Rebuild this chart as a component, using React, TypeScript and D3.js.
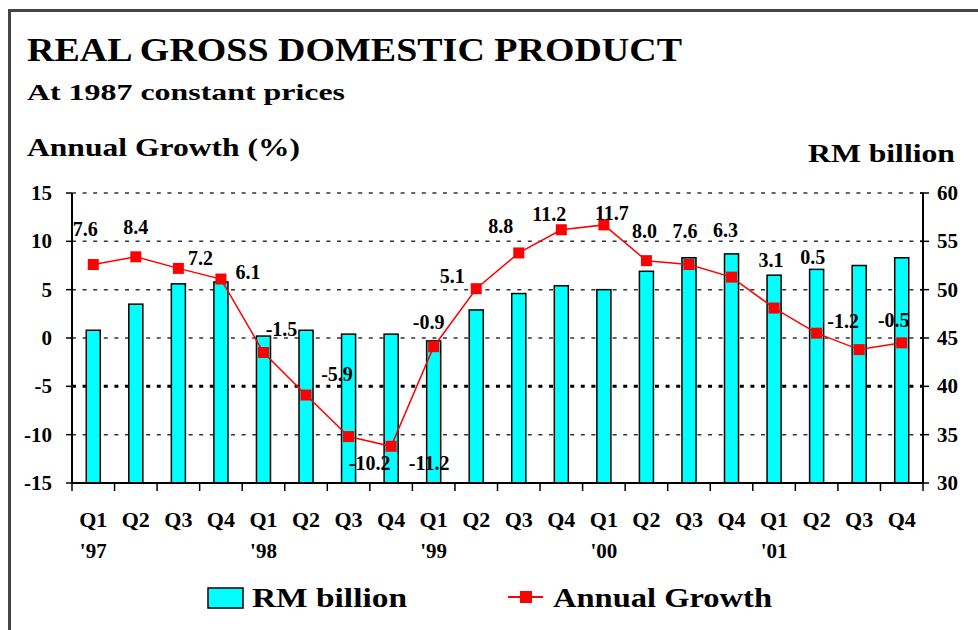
import React from "react";
import * as d3 from "d3";

const quarters = ["Q1","Q2","Q3","Q4","Q1","Q2","Q3","Q4","Q1","Q2","Q3","Q4","Q1","Q2","Q3","Q4","Q1","Q2","Q3","Q4"];
const yearLabels = ["'97","","","","'98","","","","'99","","","","'00","","","","'01","","",""];
const rmBillion = [45.8, 48.5, 50.6, 50.8, 45.2, 45.8, 45.4, 45.4, 44.7, 47.9, 49.6, 50.4, 50.0, 51.9, 53.3, 53.7, 51.5, 52.1, 52.5, 53.3];
const growth = [7.6, 8.4, 7.2, 6.1, -1.5, -5.9, -10.2, -11.2, -0.9, 5.1, 8.8, 11.2, 11.7, 8.0, 7.6, 6.3, 3.1, 0.5, -1.2, -0.5];
const leftTicks = [15, 10, 5, 0, -5, -10, -15];
const rightTicks = [60, 55, 50, 45, 40, 35, 30];

// label placement offsets (px) relative to each point
const labelDx = [-8, 0, 22, 27, 18, 31, 21, 38, -5, -24, -18, -12, 8, -2, -4, -6, -3, -4, -16, -8];
const labelDy = [-36, -30, -10, -7, -24, -21, 26, 17, -25, -13, -27, -16, -12, -30, -34, -47, -48, -76, -29, -23];

const FONT = "'Liberation Serif', 'Times New Roman', serif";

export default function App() {
  const left = 72, right = 923, top = 193, bottom = 483;
  const x = d3.scaleBand<number>().domain(d3.range(quarters.length)).range([left, right]).padding(0);
  const yL = d3.scaleLinear().domain([-15, 15]).range([bottom, top]);
  const yR = d3.scaleLinear().domain([30, 60]).range([bottom, top]);
  const bw = x.bandwidth() * 0.33;
  const cx = (i: number) => (x(i) as number) + x.bandwidth() / 2;
  const line = d3.line<number>().x((_, i) => cx(i)).y((d) => yL(d));
  const boundaries = d3.range(quarters.length + 1).map((i) => left + i * x.bandwidth());

  return (
    <svg width={978} height={630} style={{ position: "absolute", left: 0, top: 0, background: "#fff" }} fontFamily={FONT}>
      <rect x={9.5} y={10.5} width={990} height={640} fill="none" stroke="#444" strokeWidth={3} />
      <text x={27} y={61} fontSize={34} fontWeight="bold" textLength={655} lengthAdjust="spacingAndGlyphs">REAL GROSS DOMESTIC PRODUCT</text>
      <text x={27} y={100} fontSize={24} fontWeight="bold" textLength={318} lengthAdjust="spacingAndGlyphs">At 1987 constant prices</text>
      <text x={27} y={156} fontSize={25} fontWeight="bold" textLength={273} lengthAdjust="spacingAndGlyphs">Annual Growth (%)</text>
      <text x={808} y={162} fontSize={26} fontWeight="bold" textLength={147} lengthAdjust="spacingAndGlyphs">RM billion</text>

      {/* gridlines */}
      {leftTicks.filter((t) => t !== -15).map((t) => (
        <line key={"g" + t} x1={left} x2={right} y1={yL(t)} y2={yL(t)} stroke={t === -5 ? "#000" : "#333"}
          strokeWidth={t === -5 ? 3 : 1.5} strokeDasharray={t === -5 ? "4 6.6" : "4 6.6"} />
      ))}

      {/* bars */}
      {rmBillion.map((v, i) => (
        <rect key={"b" + i} x={cx(i) - bw / 2} y={yR(v)} width={bw} height={yR(30) - yR(v)} fill="#00FFFF" stroke="#000" strokeWidth={1.5} />
      ))}

      {/* axes */}
      <line x1={left} x2={left} y1={top} y2={bottom} stroke="#000" strokeWidth={2} />
      <line x1={right} x2={right} y1={top} y2={bottom} stroke="#000" strokeWidth={2} />
      <line x1={left} x2={right} y1={bottom} y2={bottom} stroke="#000" strokeWidth={2} />
      {leftTicks.map((t) => (
        <g key={"lt" + t}>
          <line x1={left - 6} x2={left} y1={yL(t)} y2={yL(t)} stroke="#000" strokeWidth={1.5} />
          <text x={52} y={yL(t) + 7} fontSize={21} fontWeight="bold" textAnchor="end">{t}</text>
        </g>
      ))}
      {rightTicks.map((t) => (
        <g key={"rt" + t}>
          <line x1={right - 3} x2={right + 6} y1={yR(t)} y2={yR(t)} stroke="#000" strokeWidth={1.5} />
          <text x={937} y={yR(t) + 7} fontSize={21} fontWeight="bold">{t}</text>
        </g>
      ))}
      {boundaries.map((bx, i) => (
        <line key={"xt" + i} x1={bx} x2={bx} y1={bottom} y2={bottom + 8} stroke="#000" strokeWidth={1.5} />
      ))}
      {quarters.map((q, i) => (
        <g key={"xl" + i}>
          <text x={cx(i)} y={527} fontSize={22} fontWeight="bold" textAnchor="middle">{q}</text>
          {yearLabels[i] && <text x={cx(i)} y={558} fontSize={21} fontWeight="bold" textAnchor="middle">{yearLabels[i]}</text>}
        </g>
      ))}

      {/* growth line */}
      <path d={line(growth) || ""} fill="none" stroke="#FF0000" strokeWidth={1.5} />
      {growth.map((g, i) => (
        <rect key={"m" + i} x={cx(i) - 5.5} y={yL(g) - 5.5} width={11} height={11} fill="#FF0000" />
      ))}
      {growth.map((g, i) => (
        <text key={"l" + i} x={cx(i) + labelDx[i]} y={yL(g) + labelDy[i] + 7} fontSize={20} fontWeight="bold" textAnchor="middle">
          {g.toFixed(1)}
        </text>
      ))}

      {/* legend */}
      <rect x={208} y={588} width={35} height={20} fill="#00FFFF" stroke="#000" strokeWidth={1.5} />
      <text x={252} y={607} fontSize={27} fontWeight="bold" textLength={155} lengthAdjust="spacingAndGlyphs">RM billion</text>
      <line x1={508} x2={543} y1={597} y2={597} stroke="#FF0000" strokeWidth={2} />
      <rect x={520} y={591} width={12} height={12} fill="#FF0000" />
      <text x={553} y={607} fontSize={27} fontWeight="bold" textLength={219} lengthAdjust="spacingAndGlyphs">Annual Growth</text>
    </svg>
  );
}
